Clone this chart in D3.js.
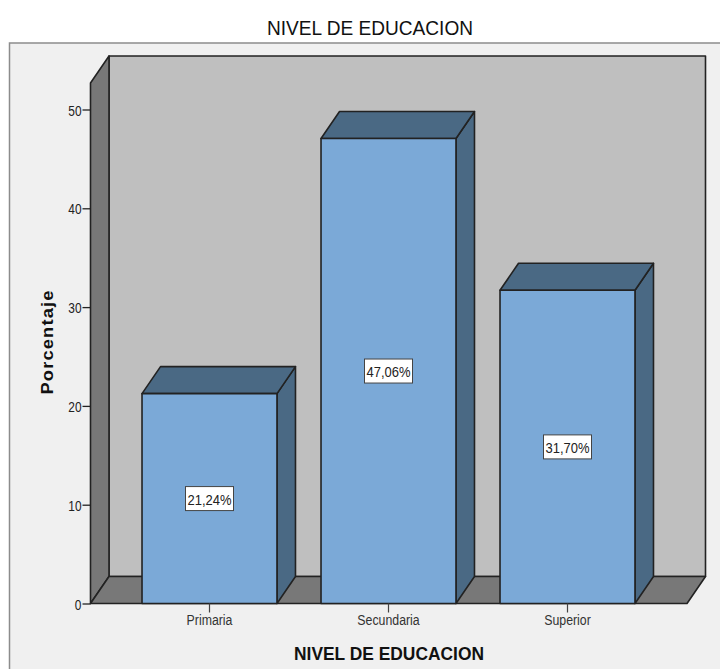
<!DOCTYPE html>
<html><head><meta charset="utf-8">
<script src="https://cdnjs.cloudflare.com/ajax/libs/d3/7.8.5/d3.min.js"></script>
<style>html,body{margin:0;padding:0;background:#fff}svg{display:block}text{font-family:"Liberation Sans",Arial,sans-serif}</style>
</head><body><script>
const categories = ["Primaria","Secundaria","Superior"];
const values = [21.24,47.06,31.70];
const valueLabels = ["21,24%","47,06%","31,70%"];
const yTicks = [0,10,20,30,40,50];
const chartTitle = "NIVEL DE EDUCACION";
const xTitle = "NIVEL DE EDUCACION";
const yTitle = "Porcentaje";

const W=720,H=669;
const svg=d3.select("body").append("svg").attr("width",W).attr("height",H);
const y=d3.scaleLinear().domain([0,50]).range([603.5,109.5]);
const x=d3.scaleBand().domain(categories).range([120,657]).paddingInner(0.246).paddingOuter(0.123);
const dx=18.5,dy=-27;
const leftX=90.5,rightX=687,topY=83,bottomY=y(0);
const edge="#222";
const poly=(pts,fill,sw=1.6)=>svg.append("polygon").attr("points",pts.map(p=>p.join(",")).join(" ")).attr("fill",fill).attr("stroke",edge).attr("stroke-width",sw).attr("stroke-linejoin","round");
const squeeze=(sel,k)=>sel.each(function(){d3.select(this).attr("textLength",this.getComputedTextLength()*k).attr("lengthAdjust","spacingAndGlyphs");});

// frame
svg.append("rect").attr("x",9.5).attr("y",43).attr("width",W+5).attr("height",H+5).attr("fill","#f0f0f0").attr("stroke","#8c8c8c").attr("stroke-width",1.5);
svg.append("text").attr("x",370).attr("y",35).attr("text-anchor","middle").attr("font-size",20).attr("fill","#111").attr("textLength",206).attr("lengthAdjust","spacingAndGlyphs").text(chartTitle);

// 3D walls
poly([[leftX+dx,topY+dy],[rightX+dx,topY+dy],[rightX+dx,bottomY+dy],[leftX+dx,bottomY+dy]],"#bfbfbf");
poly([[leftX,topY],[leftX+dx,topY+dy],[leftX+dx,bottomY+dy],[leftX,bottomY]],"#787878");
poly([[leftX,bottomY],[leftX+dx,bottomY+dy],[rightX+dx,bottomY+dy],[rightX,bottomY]],"#787878");

// y axis
const yAxis=d3.axisLeft(y).tickValues(yTicks).tickSize(8).tickPadding(1);
const gy=svg.append("g").attr("transform",`translate(${leftX},0)`).call(yAxis);
gy.select(".domain").remove();
gy.selectAll("line").attr("stroke",edge).attr("stroke-width",1.3);
gy.selectAll("text").attr("font-size",14).attr("fill","#222").attr("font-family",'"Liberation Sans",Arial,sans-serif').attr("dy","0.4em").call(squeeze,0.85);

// bars
categories.forEach((c,i)=>{
  const x0=x(c),x1=x0+x.bandwidth(),yt=y(values[i]),yb=y(0);
  poly([[x1,yt],[x1+dx,yt+dy],[x1+dx,yb+dy],[x1,yb]],"#4a6984");
  poly([[x0,yt],[x0+dx,yt+dy],[x1+dx,yt+dy],[x1,yt]],"#4a6984");
  poly([[x0,yt],[x1,yt],[x1,yb],[x0,yb]],"#7ba9d7");
});

// x axis
const xAxis=d3.axisBottom(x).tickSize(9).tickPadding(3);
const gx=svg.append("g").attr("transform",`translate(0,${bottomY})`).call(xAxis);
gx.select(".domain").remove();
gx.selectAll("line").attr("stroke","#444").attr("stroke-width",1.2);
gx.selectAll("text").attr("font-size",14).attr("fill","#333").attr("font-family",'"Liberation Sans",Arial,sans-serif').call(squeeze,0.88);

// value labels
categories.forEach((c,i)=>{
  const cx=x(c)+x.bandwidth()/2,cy=y(values[i]/2);
  svg.append("rect").attr("x",cx-24).attr("y",cy-12).attr("width",48).attr("height",24).attr("fill","#fff").attr("stroke","#444").attr("stroke-width",1);
  svg.append("text").attr("x",cx).attr("y",cy+6).attr("text-anchor","middle").attr("font-size",15).attr("fill","#222").attr("textLength",44).attr("lengthAdjust","spacingAndGlyphs").text(valueLabels[i]);
});

// axis titles
svg.append("text").attr("x",389).attr("y",660).attr("text-anchor","middle").attr("font-size",18).attr("font-weight","bold").attr("fill","#111").attr("textLength",190).attr("lengthAdjust","spacingAndGlyphs").text(xTitle);
svg.append("text").attr("transform","translate(53,342) rotate(-90)").attr("text-anchor","middle").attr("font-size",16.5).attr("font-weight","bold").attr("fill","#111").attr("letter-spacing",1).attr("textLength",105).attr("lengthAdjust","spacingAndGlyphs").text(yTitle);
</script></body></html>
